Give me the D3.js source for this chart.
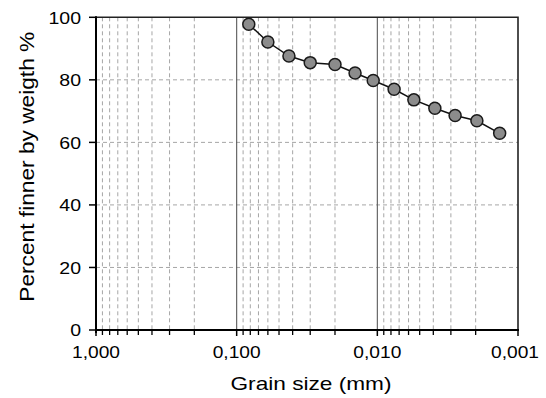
<!DOCTYPE html>
<html>
<head>
<meta charset="utf-8">
<script src="https://cdn.jsdelivr.net/npm/d3@7"></script>
<style>
  html, body { margin: 0; padding: 0; background: #fff; }
  svg { display: block; font-family: "Liberation Sans", Arial, Helvetica, sans-serif; }
</style>
</head>
<body>
<svg id="chart" width="546" height="398"></svg>
<script>
// Grain size distribution (hydrometer part of the curve)
const grainSize = [0.082, 0.060, 0.0425, 0.030, 0.020, 0.0144, 0.0107, 0.0076, 0.0055, 0.0039, 0.0028, 0.00196, 0.00135];
const percentFiner = [97.8, 92.1, 87.6, 85.5, 84.9, 82.2, 79.8, 77.0, 73.6, 70.9, 68.6, 66.9, 62.9];

const xMajorTicks = [1, 0.1, 0.01, 0.001];
const xMajorLabels = ["1,000", "0,100", "0,010", "0,001"];
const minorSteps = [2, 3, 4, 5, 6, 7, 8, 9];
const yTicks = [0, 20, 40, 60, 80, 100];

const xTitle = "Grain size (mm)";
const yTitle = "Percent finner by weigth %";

const svg = d3.select("#chart");
const plotLeft = 96, plotRight = 518, plotTop = 17.3, plotBottom = 330;

const x = d3.scaleLog().domain([1, 0.001]).range([plotLeft, plotRight]);
const y = d3.scaleLinear().domain([0, 100]).range([plotBottom, plotTop]);

// minor positions inside each decade (0.9 … 0.2, 0.09 … 0.02, …)
const xMinorTicks = [];
xMajorTicks.slice(0, -1).forEach(d => {
  minorSteps.forEach(k => xMinorTicks.push(d * k / 10));
});

// stretch helper: widen text horizontally
function widen(sel, factor) {
  sel.each(function () {
    const w = this.getComputedTextLength();
    d3.select(this).attr("textLength", w * factor).attr("lengthAdjust", "spacingAndGlyphs");
  });
}

// grid
const grid = svg.append("g");
grid.selectAll("line.vminor").data(xMinorTicks).join("line")
  .attr("x1", d => x(d)).attr("x2", d => x(d))
  .attr("y1", plotTop).attr("y2", plotBottom)
  .attr("stroke", "#a6a6a6").attr("stroke-width", 1)
  .attr("stroke-dasharray", "4,3");
grid.selectAll("line.h").data(yTicks.filter(v => v > 0 && v < 100)).join("line")
  .attr("x1", plotLeft).attr("x2", plotRight)
  .attr("y1", d => y(d)).attr("y2", d => y(d))
  .attr("stroke", "#a6a6a6").attr("stroke-width", 1)
  .attr("stroke-dasharray", "4,3");
grid.selectAll("line.vmajor").data(xMajorTicks.slice(1, -1)).join("line")
  .attr("x1", d => x(d)).attr("x2", d => x(d))
  .attr("y1", plotTop).attr("y2", plotBottom)
  .attr("stroke", "#5a5a5a").attr("stroke-width", 1.1);

// frame (top and right)
svg.append("path")
  .attr("d", `M${plotLeft},${plotTop}H${plotRight}V${plotBottom}`)
  .attr("fill", "none").attr("stroke", "#222").attr("stroke-width", 1.6);

// x axis
const xAxis = svg.append("g").attr("transform", `translate(0,${plotBottom})`);
xAxis.selectAll("line.minor").data(xMinorTicks).join("line")
  .attr("x1", d => x(d)).attr("x2", d => x(d))
  .attr("y1", 0).attr("y2", 5)
  .attr("stroke", "#000").attr("stroke-width", 1.3);
xAxis.selectAll("line.major").data(xMajorTicks).join("line")
  .attr("x1", d => x(d)).attr("x2", d => x(d))
  .attr("y1", 0).attr("y2", 6)
  .attr("stroke", "#000").attr("stroke-width", 1.5);
xAxis.append("line")
  .attr("x1", plotLeft - 1).attr("x2", plotRight + 1)
  .attr("stroke", "#000").attr("stroke-width", 2);
const xLab = xAxis.selectAll("text").data(xMajorTicks).join("text")
  .attr("x", (d, i) => x(d) + (i === xMajorTicks.length - 1 ? -3 : 0))
  .attr("y", 28.4)
  .attr("text-anchor", "middle")
  .attr("font-size", 16.4)
  .attr("fill", "#000")
  .text((d, i) => xMajorLabels[i]);
widen(xLab, 1.17);

// y axis
const yAxis = svg.append("g").attr("transform", `translate(${plotLeft},0)`);
yAxis.selectAll("line.tick").data(yTicks).join("line")
  .attr("x1", -7).attr("x2", 0)
  .attr("y1", d => y(d)).attr("y2", d => y(d))
  .attr("stroke", "#000").attr("stroke-width", 1.5);
yAxis.append("line")
  .attr("y1", plotTop - 1).attr("y2", plotBottom + 3)
  .attr("stroke", "#000").attr("stroke-width", 2);
const yLab = yAxis.selectAll("text").data(yTicks).join("text")
  .attr("x", -15)
  .attr("y", d => y(d) + 6.2)
  .attr("text-anchor", "end")
  .attr("font-size", 16.4)
  .attr("fill", "#000")
  .text(d => d);
widen(yLab, 1.19);

// titles
const xt = svg.append("text")
  .attr("x", 311).attr("y", 390)
  .attr("text-anchor", "middle")
  .attr("font-size", 18.6)
  .attr("fill", "#000")
  .text(xTitle);
xt.attr("textLength", 161).attr("lengthAdjust", "spacingAndGlyphs");

const yt = svg.append("text")
  .attr("transform", "translate(33.5,166.7) rotate(-90)")
  .attr("text-anchor", "middle")
  .attr("font-size", 20.5)
  .attr("fill", "#000")
  .text(yTitle);
yt.attr("textLength", 270).attr("lengthAdjust", "spacingAndGlyphs");

// data
const pts = grainSize.map((g, i) => ({ g, p: percentFiner[i] }));
svg.append("path")
  .datum(pts)
  .attr("d", d3.line().x(d => x(d.g)).y(d => y(d.p)))
  .attr("fill", "none").attr("stroke", "#111").attr("stroke-width", 1.5);
svg.selectAll("circle").data(pts).join("circle")
  .attr("cx", d => x(d.g)).attr("cy", d => y(d.p))
  .attr("r", 6)
  .attr("fill", "#8c8c8c")
  .attr("stroke", "#1a1a1a").attr("stroke-width", 1.5);
</script>
</body>
</html>
